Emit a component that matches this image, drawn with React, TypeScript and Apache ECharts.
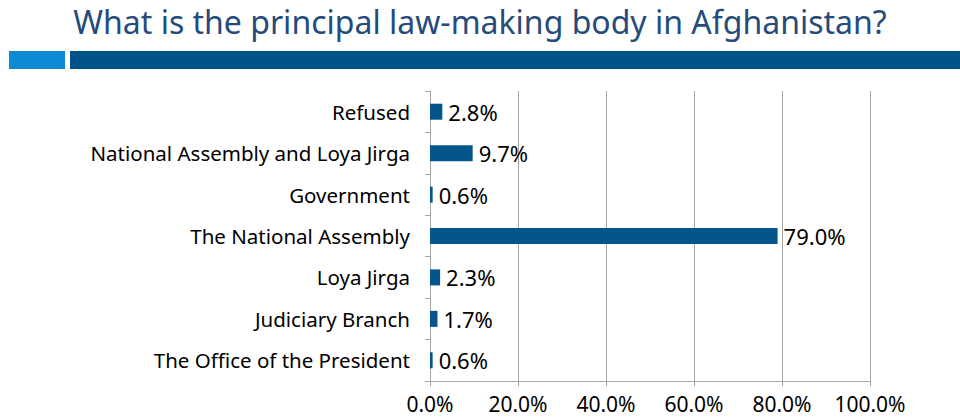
import React, { useEffect, useRef } from "react";
import * as echarts from "echarts";

const titleText = "What is the principal law-making body in Afghanistan?";
const categories = [
  "The Office of the President",
  "Judiciary Branch",
  "Loya Jirga",
  "The National Assembly",
  "Government",
  "National Assembly and Loya Jirga",
  "Refused",
];
const values = [0.6, 1.7, 2.3, 79.0, 0.6, 9.7, 2.8];
const axisMin = 0;
const axisMax = 100;
const axisInterval = 20;

export default function App() {
  const ref = useRef<HTMLDivElement>(null);
  useEffect(() => {
    if (!ref.current) return;
    const chart = echarts.init(ref.current, null, { renderer: "svg" });
    const font = "'Noto Sans', sans-serif";
    chart.setOption({
      animation: false,
      backgroundColor: "#ffffff",
      graphic: [
        { type: "rect", shape: { x: 9, y: 51, width: 56, height: 18 }, style: { fill: "#0B8BD3" } },
        { type: "rect", shape: { x: 70, y: 51, width: 890, height: 18 }, style: { fill: "#01538A" } },
      ],
      title: {
        text: titleText,
        left: "center",
        top: 0,
        textStyle: { fontFamily: font, fontSize: 32, fontWeight: "normal", color: "#254B7C" },
      },
      grid: { left: 430, right: 90, top: 91, bottom: 38, containLabel: false },
      xAxis: {
        type: "value",
        min: axisMin,
        max: axisMax,
        interval: axisInterval,
        axisLine: { show: true, lineStyle: { color: "#A6A6A6" } },
        axisTick: { show: true, length: 5, lineStyle: { color: "#A6A6A6" } },
        splitLine: { show: true, lineStyle: { color: "#A6A6A6" } },
        axisLabel: {
          formatter: (v: number) => v.toFixed(1) + "%",
          fontFamily: font,
          fontSize: 21,
          color: "#000",
          margin: 12,
        },
      },
      yAxis: {
        type: "category",
        data: categories,
        axisLine: { show: true, lineStyle: { color: "#A6A6A6" } },
        axisTick: { show: true, length: 5, lineStyle: { color: "#A6A6A6" } },
        axisLabel: { fontFamily: font, fontSize: 20.5, color: "#000", margin: 20 },
      },
      series: [
        {
          type: "bar",
          data: values,
          barWidth: 16,
          itemStyle: { color: "#03558C" },
          label: {
            show: true,
            position: "right",
            distance: 6,
            formatter: (p: any) => p.value.toFixed(1) + "%",
            fontFamily: font,
            fontSize: 22,
            color: "#000",
          },
        },
      ],
    });
    return () => chart.dispose();
  }, []);
  return <div ref={ref} style={{ position: "fixed", left: 0, top: 0, width: 960, height: 419 }} />;
}
